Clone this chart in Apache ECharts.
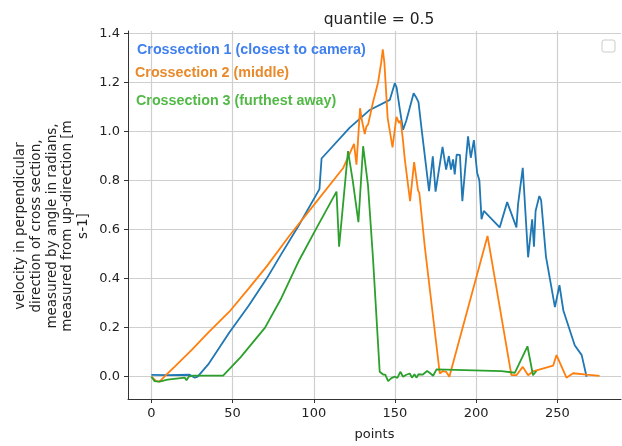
<!DOCTYPE html>
<html>
<head>
<meta charset="utf-8">
<script src="https://cdn.jsdelivr.net/npm/echarts@6/dist/echarts.min.js"></script>
<style>
html,body{margin:0;padding:0;background:#fff;}
#chart{width:622px;height:446px;}
</style>
</head>
<body>
<div id="chart"></div>
<script>
// ---- data ----
const title = "quantile = 0.5";
const xName = "points";
const yNameLines = ["velocity in perpendicular", "direction of cross section,", "measured by angle in radians,", "measured from up-direction [m", "s-1]"];
const seriesNames = ["Crossection 1 (closest to camera)", "Crossection 2 (middle)", "Crossection 3 (furthest away)"];
const xTicks = [0, 50, 100, 150, 200, 250];
const yTicks = [0.0, 0.2, 0.4, 0.6, 0.8, 1.0, 1.2, 1.4];

const cross1 = [[0,0.007],[10,0.006],[23.6,0.008],[26.7,-0.004],[28.5,0.0],[35,0.05],[48,0.18],[60,0.29],[71,0.40],[80,0.50],[91,0.62],[103.5,0.765],[104.8,0.89],[122,1.015],[134.5,1.088],[146.8,1.129],[149.9,1.197],[151,1.18],[153,1.09],[155,1.007],[157,1.045],[158,1.05],[161.5,1.156],[163,1.14],[164.5,1.12],[166.5,1.005],[167.5,1.01],[171,0.757],[173.3,0.899],[175,0.755],[179.3,0.937],[181.5,0.845],[183.2,0.90],[184.5,0.845],[185.8,0.886],[186.8,0.825],[188,0.906],[190,0.905],[191.5,0.716],[195,0.98],[196.7,0.893],[198.6,0.965],[200.6,0.832],[202,0.80],[203.3,0.642],[204.7,0.676],[214.5,0.609],[219.1,0.712],[224.8,0.609],[225.8,0.703],[227,0.705],[228.7,0.852],[229.7,0.845],[232,0.487],[234.5,0.642],[235.6,0.53],[236.6,0.676],[238.9,0.737],[240,0.72],[243,0.49],[248.5,0.284],[251.3,0.373],[253.7,0.27],[260.7,0.128],[265,0.088],[268,0.0]];

const cross2 = [[0,0.0],[1,-0.007],[3,-0.018],[5,-0.02],[8,0.0],[15,0.045],[25,0.11],[35,0.18],[48,0.265],[60,0.36],[71,0.45],[85,0.575],[100,0.70],[118,0.85],[124.8,0.95],[126.3,0.865],[128.5,1.095],[129.5,1.05],[131.4,0.99],[132.4,1.02],[133.5,1.03],[136.5,1.12],[139.6,1.2],[141.5,1.28],[142.5,1.335],[143.5,1.28],[145.5,1.055],[148.5,0.935],[150.9,1.06],[152.5,1.035],[153.5,1.045],[155,0.96],[156,0.89],[157,0.895],[159.3,0.716],[161.8,0.875],[164.2,0.76],[165,0.75],[168.3,0.534],[177.6,0.013],[179.6,0.023],[181.5,0.02],[183.5,0.0],[207,0.574],[221.7,0.006],[224.8,0.006],[228.7,0.04],[232,0.006],[235,0.022],[247.4,0.045],[249.5,0.088],[255.6,-0.004],[259.7,0.014],[268,0.008],[276,0.003]];

const cross3 = [[0,0.0],[2,-0.018],[5,-0.02],[10,-0.012],[20.6,-0.004],[21.6,-0.015],[23,0.0],[25.7,0.004],[44.2,0.004],[45,0.005],[55,0.08],[70,0.2],[80,0.32],[91,0.475],[102,0.61],[114,0.755],[115.6,0.53],[121.1,0.92],[124,0.80],[127.5,0.63],[130.4,0.94],[133.4,0.78],[136.5,0.48],[140.6,0.02],[142.7,0.009],[144,0.008],[145.8,-0.018],[147.8,-0.006],[149.9,0.0],[151.5,-0.005],[153.3,0.02],[155,0.0],[157,0.008],[159.1,0.013],[160.5,-0.004],[162,0.01],[163.2,-0.004],[164.5,0.01],[167,0.008],[169.8,0.023],[171.5,0.015],[173.5,0.004],[175.6,0.03],[215.6,0.023],[223.8,0.016],[231.6,0.124],[235,0.006],[237.1,0.023]];

const lineColors = ["#1f77b4", "#ff7f0e", "#2ca02c"];
const textColors = ["#3f7fee", "#e8892a", "#52b947"];

// ---- chart ----
const chart = echarts.init(document.getElementById('chart'), null, {renderer: 'canvas'});
const F = 'DejaVu Sans';
const gridL = 128, gridT = 31, gridW = 493, gridH = 370;

const option = {
  animation: false,
  backgroundColor: '#fff',
  title: {
    text: title, left: 374, top: 7, textAlign: 'center',
    textStyle: {fontFamily: F, fontSize: 15.5, fontWeight: 'normal', color: '#222'}
  },
  grid: {left: gridL, top: gridT, width: gridW, height: gridH, containLabel: false},
  xAxis: {
    type: 'value', min: -14.4, max: 289.2,
    name: xName, nameLocation: 'middle', nameGap: 29,
    nameTextStyle: {fontFamily: F, fontSize: 13, color: '#222'},
    axisLine: {show: true, onZero: false, lineStyle: {color: '#333', width: 1}},
    axisTick: {show: true, inside: false, length: 4, customValues: xTicks, lineStyle: {color: '#333'}},
    axisLabel: {customValues: xTicks, margin: 8, fontFamily: F, fontSize: 13, color: '#222',
      formatter: v => String(v)},
    splitLine: {show: true, lineStyle: {color: '#cfcfcf', width: 1.2}}
  },
  yAxis: {
    type: 'value', min: -0.091, max: 1.41,
    axisLine: {show: true, onZero: false, lineStyle: {color: '#333', width: 1}},
    axisTick: {show: true, inside: false, length: 4, customValues: yTicks, lineStyle: {color: '#333'}},
    axisLabel: {customValues: yTicks, margin: 8, fontFamily: F, fontSize: 13, color: '#222',
      formatter: v => v.toFixed(1)},
    splitLine: {show: true, lineStyle: {color: '#cfcfcf', width: 1.2}}
  },
  series: [cross1, cross2, cross3].map((d, i) => ({
    type: 'line', name: seriesNames[i], data: d, showSymbol: false, symbol: 'none',
    lineStyle: {color: lineColors[i], width: 1.8}, itemStyle: {color: lineColors[i]},
    z: 2 + i
  })),
  graphic: [
    {type: 'text', left: 137, top: 43, z: 100,
      style: {text: seriesNames[0], fill: textColors[0], font: 'bold 14.3px "Liberation Sans"'}},
    {type: 'text', left: 135, top: 66, z: 100,
      style: {text: seriesNames[1], fill: textColors[1], font: 'bold 14.3px "Liberation Sans"'}},
    {type: 'text', left: 136, top: 94, z: 100,
      style: {text: seriesNames[2], fill: textColors[2], font: 'bold 14.3px "Liberation Sans"'}},
    {type: 'rect', shape: {x: 602, y: 40, width: 13, height: 12, r: 2}, z: 100,
      style: {fill: '#fff', stroke: '#cccccc', lineWidth: 1}},
    {type: 'text', x: 52, y: 226, rotation: Math.PI / 2, z: 100,
      style: {text: yNameLines.join('\n'), fill: '#222', font: '13.5px "DejaVu Sans"',
        align: 'center', verticalAlign: 'middle', lineHeight: 15.8}}
  ]
};
chart.setOption(option);
</script>
</body>
</html>
